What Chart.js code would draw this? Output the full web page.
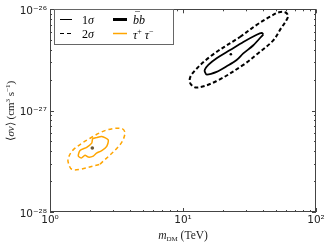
<!DOCTYPE html>
<html>
<head>
<meta charset="utf-8">
<script src="https://cdn.jsdelivr.net/npm/chart.js@4"></script>
<style>
    html, body { margin: 0; padding: 0; background: #fff; }
    canvas { display: block; }
</style>
</head>
<body>
<canvas id="contourChart" width="331" height="244"></canvas>
<script>
// ========== DATA ==========
const xTicks = [1, 10, 100];
const xTickLabels = ["10⁰", "10¹", "10²"];
const yTicks = [1e-28, 1e-27, 1e-26];
const yTickLabels = ["10⁻²⁸", "10⁻²⁷", "10⁻²⁶"];

// b bbar, 1 sigma contour (m_DM in TeV, <sigma v> in cm^3/s)
const bb1X = [40.2, 33.8, 28.4, 25.3, 21.3, 17.9, 15.1, 14.6, 14.6, 15.5, 17.9, 22.6, 28.4, 35.8, 39.1];
const bb1Y = [5.67e-27, 4.42e-27, 3.67e-27, 3.16e-27, 2.74e-27, 2.41e-27, 2.27e-27, 2.41e-27, 2.54e-27, 2.83e-27, 3.29e-27, 3.96e-27, 4.76e-27, 5.61e-27, 5.86e-27];

// b bbar, 2 sigma contour
const bb2X = [26.8, 36.6, 45.1, 52.7, 58.5, 61.6, 59.5, 55.2, 47.7, 36.6, 28.4, 17.9, 12.7, 11.3, 11.6, 16.0];
const bb2Y = [5.33e-27, 7.16e-27, 8.46e-27, 9.35e-27, 9.35e-27, 8.65e-27, 7.66e-27, 6.65e-27, 4.94e-27, 3.67e-27, 2.83e-27, 1.96e-27, 1.69e-27, 1.88e-27, 2.27e-27, 3.41e-27];

// tau tau, 1 sigma contour
const tau1X = [2.245, 2.117, 1.94, 1.833, 1.73, 1.633, 1.681, 1.888, 2.06, 2.094, 2.245, 2.45, 2.74, 2.67, 2.45];
const tau1Y = [3.83e-28, 3.56e-28, 3.48e-28, 3.63e-28, 3.42e-28, 3.56e-28, 4.04e-28, 4.35e-28, 4.78e-28, 5.27e-28, 5.42e-28, 5.55e-28, 5.15e-28, 4.44e-28, 4.04e-28];

// tau tau, 2 sigma contour
const tau2X = [2.377, 3.36, 3.66, 3.46, 2.67, 2.0, 1.50, 1.373, 1.373, 1.456, 1.681];
const tau2Y = [2.96e-28, 4.61e-28, 5.97e-28, 6.67e-28, 6.44e-28, 5.34e-28, 4.12e-28, 3.42e-28, 3.06e-28, 2.64e-28, 2.64e-28];

// best fit points
const bbBest = [22.9, 3.6e-27];
const tauBest = [2.08, 4.28e-28];

const ORANGE = "#ffa500";

// ========== HELPERS ==========
function loop(xs, ys) {
    const pts = xs.map((x, i) => ({ x: x, y: ys[i] }));
    pts.push(pts[0]);
    return pts;
}

function contour(xs, ys, color, width, dash, tension) {
    return {
        data: loop(xs, ys),
        showLine: true,
        borderColor: color,
        borderWidth: width,
        borderDash: dash,
        tension: tension,
        pointRadius: 0,
        fill: false
    };
}

// draws text pieces one after another: [text, font, dy]
function drawRich(ctx, x, y, parts) {
    parts.forEach(p => {
        ctx.font = p[1];
        ctx.fillText(p[0], x, y + (p[2] || 0));
        x += ctx.measureText(p[0]).width;
    });
    return x;
}

function richWidth(ctx, parts) {
    let w = 0;
    parts.forEach(p => {
        ctx.font = p[1];
        w += ctx.measureText(p[0]).width;
    });
    return w;
}

const SERIF = "'Liberation Serif', serif";
const it = s => "italic " + s + "px " + SERIF;
const rm = s => s + "px " + SERIF;

// ========== FRAME, TICKS, TITLES, LEGEND ==========
const decor = {
    id: "decor",
    afterDraw(chart) {
        const { ctx, chartArea: a, scales } = chart;
        const x = scales.x, y = scales.y;
        ctx.save();

        // inward ticks on all four sides
        ctx.strokeStyle = "#444";
        ctx.lineWidth = 1;
        ctx.beginPath();
        for (let e = 0; e <= 2; e++) {
            for (let m = 1; m <= 9; m++) {
                const v = m * Math.pow(10, e);
                if (v > 100) break;
                const px = Math.round(x.getPixelForValue(v)) + 0.5;
                const len = m === 1 ? 4 : 2;
                ctx.moveTo(px, a.bottom); ctx.lineTo(px, a.bottom - len);
                ctx.moveTo(px, a.top); ctx.lineTo(px, a.top + len);
            }
        }
        for (let e = -28; e <= -26; e++) {
            for (let m = 1; m <= 9; m++) {
                const v = m * Math.pow(10, e);
                if (e === -26 && m > 1) break;
                const py = Math.round(y.getPixelForValue(v)) + 0.5;
                const len = m === 1 ? 4 : 2;
                ctx.moveTo(a.left, py); ctx.lineTo(a.left + len, py);
                ctx.moveTo(a.right, py); ctx.lineTo(a.right - len, py);
            }
        }
        ctx.stroke();

        // frame
        ctx.strokeStyle = "#444";
        ctx.strokeRect(Math.round(a.left) + 0.5, Math.round(a.top) + 0.5,
            Math.round(a.right - a.left) - 1, Math.round(a.bottom - a.top) - 1);

        // axis titles
        ctx.fillStyle = "#222";
        ctx.textBaseline = "alphabetic";
        const xt = [["m", it(11.5)], ["DM", rm(7), 2], [" (TeV)", rm(11.5)]];
        const cx = (a.left + a.right) / 2;
        drawRich(ctx, cx - richWidth(ctx, xt) / 2, 239, xt);

        const yt = [["⟨", rm(11)], ["σv", it(11)], ["⟩ (cm", rm(11)], ["3", rm(7), -4],
            [" s", rm(11)], ["−1", rm(7), -4], [")", rm(11)]];
        ctx.save();
        ctx.translate(14, (a.top + a.bottom) / 2);
        ctx.rotate(-Math.PI / 2);
        drawRich(ctx, -richWidth(ctx, yt) / 2, 0, yt);
        ctx.restore();

        // legend
        const lx = 54.5, ly = 9.5, lw = 119, lh = 35;
        ctx.fillStyle = "#fff";
        ctx.fillRect(lx, ly, lw, lh);
        ctx.strokeStyle = "#666";
        ctx.lineWidth = 1;
        ctx.strokeRect(lx, ly, lw, lh);

        const r1 = 19.5, r2 = 33.5;
        ctx.strokeStyle = "#000";
        ctx.lineWidth = 1;
        ctx.beginPath(); ctx.moveTo(60, r1); ctx.lineTo(72, r1); ctx.stroke();
        ctx.setLineDash([4, 3]);
        ctx.beginPath(); ctx.moveTo(60, r2); ctx.lineTo(73, r2); ctx.stroke();
        ctx.setLineDash([]);
        ctx.lineWidth = 3;
        ctx.beginPath(); ctx.moveTo(113, r1); ctx.lineTo(127, r1); ctx.stroke();
        ctx.strokeStyle = ORANGE;
        ctx.lineWidth = 1.5;
        ctx.beginPath(); ctx.moveTo(113, r2); ctx.lineTo(127, r2); ctx.stroke();

        ctx.fillStyle = "#000";
        ctx.textBaseline = "alphabetic";
        drawRich(ctx, 82, r1 + 4, [["1", rm(12)], ["σ", it(12)]]);
        drawRich(ctx, 82, r2 + 4, [["2", rm(12)], ["σ", it(12)]]);
        drawRich(ctx, 133, r1 + 4, [["bb", it(12)]]);
        ctx.strokeStyle = "#888";
        ctx.lineWidth = 1;
        ctx.beginPath(); ctx.moveTo(135, 11.5); ctx.lineTo(140, 11.5); ctx.stroke();
        drawRich(ctx, 133, r2 + 5, [["τ", it(12)], ["+", rm(8), -5], [" τ", it(12)], ["−", rm(8), -5]]);

        ctx.restore();
    }
};

// ========== CHART ==========
document.addEventListener("DOMContentLoaded", () => {
    const ctx = document.getElementById("contourChart");

    const datasets = [
        contour(bb1X, bb1Y, "#000", 1.8, [], 0.3),
        contour(bb2X, bb2Y, "#000", 2, [4, 2.5], 0.35),
        contour(tau1X, tau1Y, ORANGE, 1.5, [], 0.25),
        contour(tau2X, tau2Y, ORANGE, 1.5, [4, 3], 0.35),
        { data: [{ x: bbBest[0], y: bbBest[1] }], pointRadius: 1.3, backgroundColor: "#000", borderWidth: 0 },
        { data: [{ x: tauBest[0], y: tauBest[1] }], pointRadius: 1.8, backgroundColor: "#6a5836", borderWidth: 0 }
    ];

    new Chart(ctx, {
        type: "scatter",
        data: { datasets: datasets },
        options: {
            responsive: false,
            animation: false,
            devicePixelRatio: 1,
            layout: { padding: { top: 5, right: 15, left: 0, bottom: 0 } },
            plugins: { legend: { display: false }, tooltip: { enabled: false } },
            scales: {
                x: {
                    type: "logarithmic",
                    min: 1,
                    max: 100,
                    grid: { display: false, drawTicks: false },
                    border: { display: false },
                    afterBuildTicks: s => { s.ticks = xTicks.map(v => ({ value: v })); },
                    afterFit: s => { s.height = 32; },
                    ticks: {
                        callback: (v, i) => xTickLabels[i],
                        autoSkip: false,
                        maxRotation: 0,
                        padding: 2,
                        color: "#222",
                        font: { family: "'DejaVu Sans'", size: 10.5 }
                    }
                },
                y: {
                    type: "logarithmic",
                    min: 1e-28,
                    max: 1e-26,
                    grid: { display: false, drawTicks: false },
                    border: { display: false },
                    afterBuildTicks: s => { s.ticks = yTicks.map(v => ({ value: v })); },
                    afterFit: s => { s.width = 50; },
                    ticks: {
                        callback: (v, i) => yTickLabels[i],
                        autoSkip: false,
                        padding: 3,
                        labelOffset: 2,
                        color: "#222",
                        font: { family: "'DejaVu Sans'", size: 10.5 }
                    }
                }
            }
        },
        plugins: [decor]
    });
});
</script>
</body>
</html>
